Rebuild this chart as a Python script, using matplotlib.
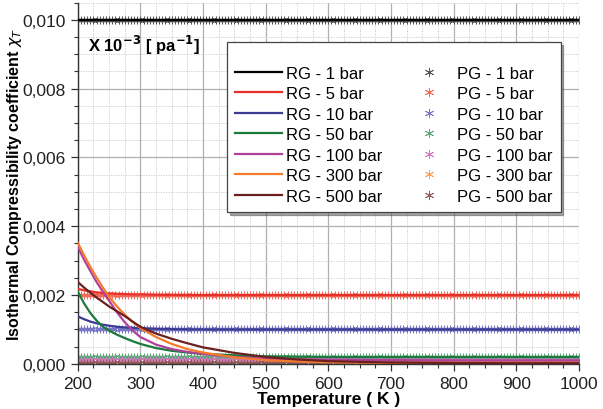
import matplotlib
matplotlib.use("Agg")
import matplotlib.pyplot as plt
import numpy as np
from matplotlib.ticker import MultipleLocator, FuncFormatter

plt.rcParams["font.family"] = ["Liberation Sans", "DejaVu Sans"]

temps = [200, 210, 220, 230, 240, 250, 262.5, 275, 287.5, 300, 325, 350, 375, 400,
         450, 500, 550, 600, 700, 800, 900, 1000]
rg_1 = [0.0100] * 22
rg_5 = [0.00218, 0.00214, 0.00211, 0.00208, 0.00206, 0.00205, 0.00204, 0.00203, 0.00202,
        0.00202, 0.00201, 0.002005, 0.0020, 0.0020, 0.0020, 0.0020, 0.0020, 0.0020,
        0.0020, 0.0020, 0.0020, 0.0020]
rg_10 = [0.00138, 0.00130, 0.00123, 0.00118, 0.00114, 0.00111, 0.00108, 0.00106, 0.00105,
         0.00104, 0.00102, 0.00101, 0.001005, 0.0010, 0.0010, 0.0010, 0.0010, 0.0010,
         0.0010, 0.0010, 0.0010, 0.0010]
rg_50 = [0.00210, 0.00176, 0.00148, 0.00126, 0.00108, 0.00097, 0.00085, 0.00075, 0.00066,
         0.00058, 0.00046, 0.00038, 0.00033, 0.00029, 0.00025, 0.00022, 0.00021, 0.00020,
         0.00020, 0.00020, 0.00020, 0.00020]
rg_100 = [0.00340, 0.00303, 0.00270, 0.00238, 0.00210, 0.00184, 0.00150, 0.00121, 0.00097,
          0.00078, 0.00056, 0.00043, 0.00035, 0.00029, 0.00020, 0.00015, 0.00013, 0.00012,
          0.00011, 0.00010, 0.00010, 0.00010]
rg_300 = [0.00352, 0.00316, 0.00282, 0.00251, 0.00222, 0.00195, 0.00167, 0.00143, 0.00122,
          0.00104, 0.00078, 0.00058, 0.00043, 0.00033, 0.00019, 0.00011, 0.00007, 0.00005,
          0.000035, 0.000033, 0.000033, 0.000033]
rg_500 = [0.00238, 0.00222, 0.00207, 0.00193, 0.00180, 0.00167, 0.00153, 0.00139, 0.00123,
          0.00108, 0.00088, 0.00073, 0.00060, 0.00048, 0.00032, 0.00020, 0.00013, 0.00008,
          0.00004, 0.000025, 0.00002, 0.00002]

# PG (perfect gas) values are flat lines
pg_values = [0.0100, 0.0020, 0.0010, 0.00020, 0.00010, 0.0000333, 0.00002]
pg_temps = np.arange(200, 1001, 5)

labels = ["1 bar", "5 bar", "10 bar", "50 bar", "100 bar", "300 bar", "500 bar"]
line_colors = ["#000000", "#e8302a", "#3b3b96", "#1b7a3c", "#b0409c", "#f47a2c", "#6b1f1f"]
marker_colors = ["#555555", "#f26a5a", "#7a78c4", "#5aa878", "#d27ac6", "#f6a060", "#8f5a5a"]

rg_series = [rg_1, rg_5, rg_10, rg_50, rg_100, rg_300, rg_500]

fig = plt.figure(figsize=(6.03, 4.10), dpi=100)
ax = fig.add_axes([0.129, 0.110, 0.831, 0.881])

pg_handles = []
for val, col, lab in zip(pg_values, marker_colors, labels):
    h, = ax.plot(pg_temps, np.full(len(pg_temps), val), linestyle="none", marker=(6, 2, 0),
                 markersize=5.5, markeredgewidth=0.6, color=col, label="PG - " + lab, zorder=2)
    pg_handles.append(h)

rg_handles = []
for ys, col, lab in zip(rg_series, line_colors, labels):
    h, = ax.plot(temps, ys, color=col, linewidth=1.6, label="RG - " + lab, zorder=3)
    rg_handles.append(h)

ax.set_xlim(200, 1000)
ax.set_ylim(0, 0.0105)
ax.xaxis.set_major_locator(MultipleLocator(100))
ax.xaxis.set_minor_locator(MultipleLocator(25))
ax.yaxis.set_major_locator(MultipleLocator(0.002))
ax.yaxis.set_minor_locator(MultipleLocator(0.0005))
ax.yaxis.set_major_formatter(FuncFormatter(lambda v, p: f"{v:.3f}".replace(".", ",")))

ax.grid(which="major", color="#b0b0b0", linewidth=0.9)
ax.grid(which="minor", color="#c8c8c8", linewidth=0.6, linestyle=(0, (1.5, 1.5)))
ax.set_axisbelow(True)

for s in ["top", "right"]:
    ax.spines[s].set_visible(False)
for s in ["left", "bottom"]:
    ax.spines[s].set_color("#333333")
    ax.spines[s].set_linewidth(1.0)

ax.tick_params(which="major", direction="out", length=5, width=0.9, labelsize=12.5, colors="#333333")
ax.tick_params(which="minor", direction="out", length=3, width=0.8, colors="#333333")
ax.tick_params(labelcolor="#222222")

ax.set_xlabel("Temperature ( K )", fontsize=12.5, fontweight="bold", labelpad=0)
ax.set_ylabel(r"Isothermal Compressibility coefficient $\chi_T$", fontsize=11.5,
              fontweight="bold", va="center")
ax.yaxis.set_label_coords(-0.126, 0.5)

ax.text(0.02, 0.885, r"X 10$^{\mathbf{-3}}$ [ pa$^{\mathbf{-1}}$]", transform=ax.transAxes,
        fontsize=12, fontweight="bold", va="center", ha="left")

leg = ax.legend(rg_handles + pg_handles, [h.get_label() for h in rg_handles + pg_handles],
                ncol=2, loc="upper right", bbox_to_anchor=(0.98, 0.915),
                fontsize=12, frameon=True, fancybox=False, shadow=True,
                edgecolor="#444444", handlelength=2.8, handletextpad=0.25,
                columnspacing=1.4, labelspacing=0.33, borderpad=0.5,
                title=" ", title_fontsize=8, markerscale=1.2)
leg.get_frame().set_linewidth(0.9)

fig.savefig("out.png", dpi=100)
